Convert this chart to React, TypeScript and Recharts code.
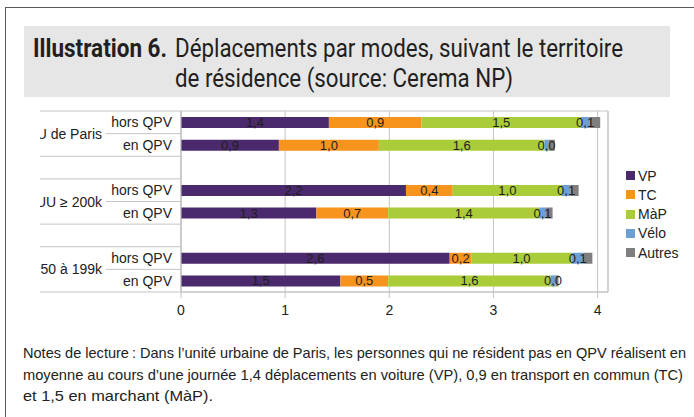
import React from 'react';
import {
  BarChart,
  Bar,
  XAxis,
  YAxis,
  CartesianGrid,
  Legend,
  LabelList,
  ReferenceArea,
} from 'recharts';

// ---------- data ----------
const groups = ['UU de Paris', 'UU ≥ 200k', 'UU 50 à 199k'];
const residences = ['hors QPV', 'en QPV'];
// order: Paris hors, Paris en, 200k hors, 200k en, 50-199k hors, 50-199k en
const vp = [1.42, 0.94, 2.16, 1.3, 2.58, 1.53];
const tc = [0.89, 0.96, 0.449, 0.69, 0.21, 0.46];
const map = [1.53, 1.59, 1.049, 1.449, 0.96, 1.56];
const velo = [0.08, 0.04, 0.08, 0.065, 0.12, 0.045];
const autres = [0.105, 0.06, 0.08, 0.064, 0.08, 0.03];
const xTicks = [0, 1, 2, 3, 4];
const xMax = 4.1;

const seriesNames = ['VP', 'TC', 'MàP', 'Vélo', 'Autres'];
const seriesValues = [vp, tc, map, velo, autres];
const seriesColors = ['#4a2a6c', '#f7941d', '#a9cc38', '#6c9fd3', '#7f7f7f'];
const seriesLabelled = [true, true, true, true, false];

const titleBold = 'Illustration 6.';
const titleLine1 = 'Déplacements par modes, suivant le territoire';
const titleLine2 = 'de résidence (source: Cerema NP)';
const notes = [
  'Notes de lecture\u202F: Dans l’unité urbaine de Paris, les personnes qui ne résident pas en QPV réalisent en',
  'moyenne au cours d’une journée 1,4 déplacements en voiture (VP), 0,9 en transport en commun (TC)',
  'et 1,5 en marchant (MàP).',
];

// ---------- build rows ----------
type Row = { [k: string]: any };
const rows: Row[] = [];
groups.forEach((g, gi) => {
  residences.forEach((r, ri) => {
    const idx = gi * 2 + ri;
    const row: Row = { id: `${gi}-${ri}`, group: g, res: r, ri };
    seriesNames.forEach((s, si) => {
      row[s] = seriesValues[si][idx];
    });
    rows.push(row);
  });
  if (gi < groups.length - 1) {
    rows.push({ id: `gap-${gi}`, group: '', res: '', ri: -1 });
  }
});

const FONT = '"Liberation Sans", Arial, sans-serif';
const CHART_W = 694;
const CHART_H = 330;
const PLOT_TOP = 111;
const PLOT_BOTTOM = 292;
const AXIS_X = 181;
const BAND = (PLOT_BOTTOM - PLOT_TOP) / rows.length;
const LINE_COLOR = '#c4c4c4';

const fmt = (v: any) =>
  v === undefined || v === null || v === '' ? '' : Number(v).toFixed(1).replace('.', ',');

const CategoryTick = (props: any) => {
  const { y, payload, index } = props;
  const row = rows.find((r) => r.id === payload.value) || rows[index];
  const top = y - BAND / 2;
  const bottom = y + BAND / 2;
  return (
    <g>
      {row.ri === 0 && (
        <g>
          <line x1={30} x2={AXIS_X} y1={top} y2={top} stroke={LINE_COLOR} />
          <line x1={106} x2={AXIS_X} y1={bottom} y2={bottom} stroke={LINE_COLOR} />
          <text
            x={102}
            y={bottom}
            textAnchor="end"
            dominantBaseline="central"
            fontSize={14}
            fontFamily={FONT}
            fill="#222"
          >
            {row.group}
          </text>
        </g>
      )}
      {row.ri === 1 && (
        <line x1={30} x2={AXIS_X} y1={bottom} y2={bottom} stroke={LINE_COLOR} />
      )}
      {row.ri >= 0 && (
        <text
          x={172}
          y={y}
          textAnchor="end"
          dominantBaseline="central"
          fontSize={14}
          fontFamily={FONT}
          fill="#222"
        >
          {row.res}
        </text>
      )}
    </g>
  );
};

const LegendContent = (props: any) => {
  const payload = [...(props.payload || [])].sort(
    (a: any, b: any) => seriesNames.indexOf(a.value) - seriesNames.indexOf(b.value)
  );
  return (
    <div style={{ fontFamily: FONT, fontSize: 14, color: '#222' }}>
      {payload.map((p: any) => (
        <div
          key={p.value}
          style={{ display: 'flex', alignItems: 'center', height: 19.25, whiteSpace: 'nowrap' }}
        >
          <span
            style={{
              display: 'inline-block',
              width: 9,
              height: 9,
              background: p.color,
              marginRight: 3,
            }}
          />
          <span>{p.value}</span>
        </div>
      ))}
    </div>
  );
};

export default function App() {
  return (
    <div
      style={{
        position: 'fixed',
        left: 0,
        top: 0,
        width: 694,
        height: 417,
        background: '#fff',
        overflow: 'hidden',
        fontFamily: FONT,
      }}
    >
      <div
        style={{
          position: 'absolute',
          left: 5,
          top: 7,
          width: 900,
          height: 600,
          borderLeft: '1.5px solid #5a5a5a',
          borderTop: '1.5px solid #5a5a5a',
        }}
      />
      <div
        style={{
          position: 'absolute',
          left: 24,
          top: 26,
          width: 646,
          height: 71,
          background: '#e6e6e7',
        }}
      />
      <svg
        width={694}
        height={417}
        style={{ position: 'absolute', left: 0, top: 0 }}
      >
        <text
          x={33}
          y={57}
          fontFamily="Roboto, sans-serif"
          fontWeight="bold"
          fontSize={26}
          fill="#231f20"
          textLength={134}
          lengthAdjust="spacingAndGlyphs"
        >
          {titleBold}
        </text>
        <text
          x={175}
          y={57}
          fontFamily="Roboto, sans-serif"
          fontSize={26}
          fill="#231f20"
          textLength={448}
          lengthAdjust="spacingAndGlyphs"
        >
          {titleLine1}
        </text>
        <text
          x={175}
          y={87}
          fontFamily="Roboto, sans-serif"
          fontSize={26}
          fill="#231f20"
          textLength={338}
          lengthAdjust="spacingAndGlyphs"
        >
          {titleLine2}
        </text>
        {notes.map((line, i) => (
          <text
            key={i}
            x={23}
            y={358 + i * 21.7}
            fontFamily={FONT}
            fontSize={14.5}
            fill="#222"
            textLength={i === 0 ? 663 : i === 1 ? 660 : 190}
            lengthAdjust="spacingAndGlyphs"
          >
            {line}
          </text>
        ))}
      </svg>
      <div
        style={{
          position: 'absolute',
          left: 0,
          top: 0,
          clipPath: 'inset(0px 0px 0px 40px)',
        }}
      >
        <BarChart
          width={CHART_W}
          height={CHART_H}
          data={rows}
          layout="vertical"
          margin={{ top: PLOT_TOP, right: CHART_W - 608, bottom: 8, left: 0 }}
          barSize={11}
        >
          <CartesianGrid horizontal={false} stroke={LINE_COLOR} />
          <XAxis
            type="number"
            domain={[0, xMax]}
            ticks={xTicks}
            height={CHART_H - PLOT_BOTTOM - 8}
            axisLine={{ stroke: LINE_COLOR }}
            tickLine={{ stroke: LINE_COLOR }}
            tickSize={6}
            tickMargin={7}
            tick={{ fill: '#222', fontSize: 14, fontFamily: FONT }}
            allowDataOverflow
          />
          <YAxis
            type="category"
            dataKey="id"
            width={AXIS_X}
            axisLine={{ stroke: LINE_COLOR }}
            tickLine={false}
            tick={<CategoryTick />}
            interval={0}
          />
          <ReferenceArea
            x1={0}
            x2={xMax}
            fill="none"
            stroke={LINE_COLOR}
            strokeWidth={1}
            ifOverflow="visible"
          />
          {seriesNames.map((s, si) => (
            <Bar
              key={s}
              dataKey={s}
              name={s}
              stackId="a"
              fill={seriesColors[si]}
              isAnimationActive={false}
            >
              {seriesLabelled[si] && (
                <LabelList
                  dataKey={s}
                  position="center"
                  formatter={fmt}
                  fill="#1e1e1e"
                  fontSize={13}
                  fontFamily={FONT}
                />
              )}
            </Bar>
          ))}
          <Legend
            layout="vertical"
            align="center"
            verticalAlign="middle"
            content={<LegendContent />}
            wrapperStyle={{ left: 626, top: 166, width: 70 }}
          />
        </BarChart>
      </div>
    </div>
  );
}
